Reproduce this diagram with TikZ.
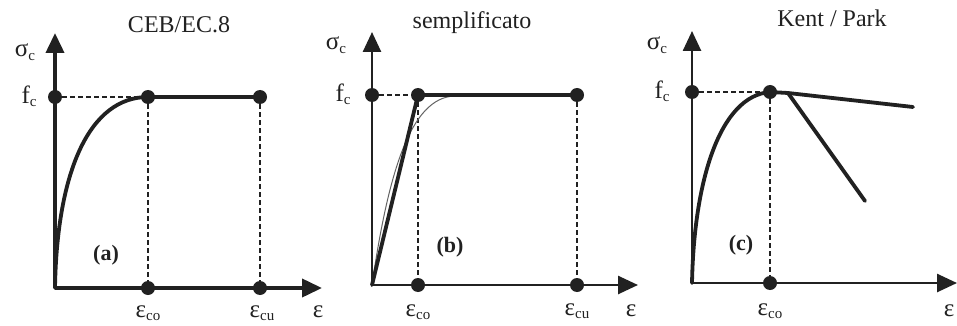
\documentclass[tikz,border=0pt]{standalone}
\usepackage{fontspec}
\setmainfont{Liberation Serif}
\usetikzlibrary{arrows.meta}
\definecolor{ink}{gray}{0.13}
\tikzset{
  dot/.style={circle,fill=ink,inner sep=0pt,minimum size=14pt},
  axisthick/.style={draw=ink,line width=3.8pt,-{Triangle[length=20pt,width=18pt]}},
  axisthin/.style={draw=ink,line width=2.6pt,-{Triangle[length=20pt,width=18pt]}},
  curve/.style={draw=ink,line width=3.8pt,line cap=round},
  thincurve/.style={draw=ink!70,line width=1pt},
  guide/.style={draw=ink,line width=1.6pt,dash pattern=on 5pt off 3pt},
  lbl/.style={text=ink,inner sep=0pt,font=\fontsize{25}{27}\selectfont},
  ttl/.style={text=ink,inner sep=0pt,font=\fontsize{24}{28}\selectfont},
  tag/.style={text=ink,inner sep=0pt,font=\fontsize{22}{24}\selectfont\bfseries}
}
\newcommand{\sub}[1]{\raisebox{-0.3ex}{\fontsize{15}{16}\selectfont #1}}
\begin{document}
\begin{tikzpicture}[x=1pt,y=-1pt]
\useasboundingbox[fill=white] (0,0) rectangle (957,326);
% ---------- panel (a)
\coordinate (Oa) at (55,288);
\coordinate (Ya) at (55,33);
\coordinate (Xa) at (322,288);
\draw[axisthick] (Oa) -- (Ya);
\draw[axisthick] (Oa) -- (Xa);
\node[dot] (fa) at (55,97) {};
\node[dot] (pa) at (148,97) {};
\node[dot] (ua) at (260,97) {};
\node[dot] (pa0) at (148,288) {};
\node[dot] (ua0) at (260,288) {};
\draw[guide] (fa) -- (pa);
\draw[guide] (pa) -- (pa0);
\draw[guide] (ua) -- (ua0);
\draw[curve] (Oa) .. controls (57,170) and (90,97) .. (pa.center) -- (ua.center);
\node[ttl] (ta) at (179,25) {CEB/EC.8};
\node[lbl] (sa) at (25,52) {σ\sub{c}};
\node[lbl] (fca) at (29,96) {f\sub{c}};
\node[tag] (la) at (106,255) {(a)};
\node[lbl] (eca) at (148,313) {ε\sub{co}};
\node[lbl] (eua) at (262,313) {ε\sub{cu}};
\node[lbl] (ea) at (318,312) {ε};
% ---------- panel (b)
\coordinate (Ob) at (372,285);
\coordinate (Yb) at (372,32);
\coordinate (Xb) at (638,285);
\draw[axisthin] (Ob) -- (Yb);
\draw[axisthin] (Ob) -- (Xb);
\node[dot] (fb) at (372,95) {};
\node[dot] (pb) at (418,95) {};
\node[dot] (ub) at (577,95) {};
\node[dot] (pb0) at (418,285) {};
\node[dot] (ub0) at (577,285) {};
\draw[guide] (fb) -- (pb);
\draw[guide] (pb) -- (pb0);
\draw[guide] (ub) -- (ub0);
\draw[thincurve] (Ob) .. controls (388,175) and (410,97) .. (455,96);
\draw[curve] (Ob) -- (pb.center) -- (ub.center);
\node[ttl] (tb) at (472,23) {semplificato};
\node[lbl] (sb) at (336,45) {σ\sub{c}};
\node[lbl] (fcb) at (343,94) {f\sub{c}};
\node[tag] (lb) at (450,247) {(b)};
\node[lbl] (ecb) at (418,312) {ε\sub{co}};
\node[lbl] (eub) at (577,311) {ε\sub{cu}};
\node[lbl] (eb) at (631,311) {ε};
% ---------- panel (c)
\coordinate (Oc) at (692,283);
\coordinate (Yc) at (692,31);
\coordinate (Xc) at (957,283);
\draw[axisthin] (Oc) -- (Yc);
\draw[axisthin] (Oc) -- (Xc);
\node[dot] (fc) at (692,92) {};
\node[dot] (pc) at (770,92) {};
\node[dot] (pc0) at (770,283) {};
\coordinate (kc) at (788,93);
\coordinate (rc) at (913,107);
\coordinate (dc) at (865,201);
\draw[guide] (fc) -- (pc);
\draw[guide] (pc) -- (pc0);
\draw[curve] (Oc) .. controls (694,180) and (720,96) .. (pc.center) -- (kc) -- (rc);
\draw[curve] (kc) -- (dc);
\node[ttl] (tc) at (832,18) {Kent / Park};
\node[lbl] (sc) at (657,45) {σ\sub{c}};
\node[lbl] (fcc) at (662,91) {f\sub{c}};
\node[tag] (lc) at (741,245) {(c)};
\node[lbl] (ecc) at (770,311) {ε\sub{co}};
\node[lbl] (ec) at (949,311) {ε};
\end{tikzpicture}
\end{document}
